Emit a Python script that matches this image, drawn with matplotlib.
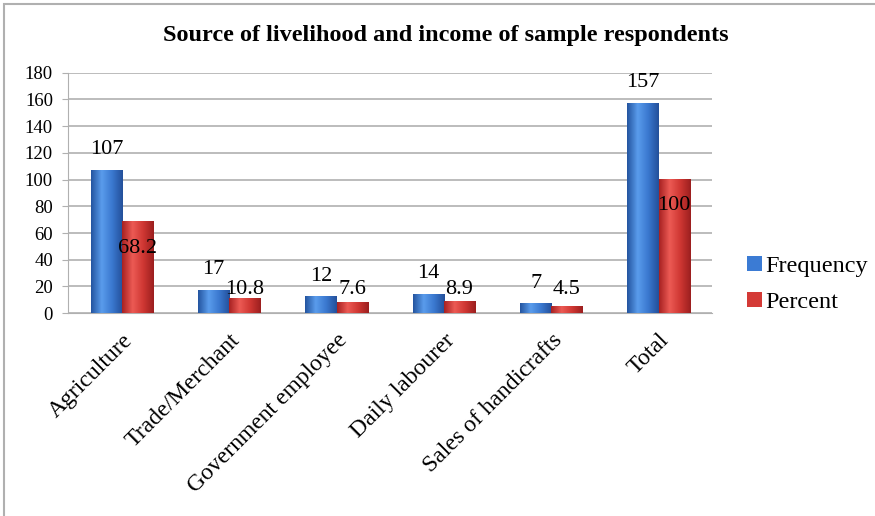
import numpy as np
import matplotlib
matplotlib.use('Agg')
import matplotlib.pyplot as plt
from matplotlib.colors import LinearSegmentedColormap
from matplotlib.patches import Rectangle

categories = ['Agriculture', 'Trade/Merchant', 'Government employee',
              'Daily labourer', 'Sales of handicrafts', 'Total']
frequency = [107, 17, 12, 14, 7, 157]
percent = [68.2, 10.8, 7.6, 8.9, 4.5, 100]
freq_labels = ['107', '17', '12', '14', '7', '157']
pct_labels = ['68.2', '10.8', '7.6', '8.9', '4.5', '100']

plt.rcParams['font.family'] = ['Liberation Serif', 'DejaVu Serif']

fig = plt.figure(figsize=(8.75, 5.16), dpi=100)
ax = fig.add_axes([0.078, 0.393, 0.736, 0.466])

# frame round the whole chart (right and bottom edges fall outside the picture)
fig.patches.append(Rectangle((0.005, -0.02), 1.1, 1.012, transform=fig.transFigure,
                             fill=False, edgecolor='#b0b0b0', linewidth=1.5))

x = np.arange(len(categories))
w = 0.29
blue_bars = ax.bar(x - w / 2, frequency, w, color='#3b7bd4', zorder=3, label='Frequency')
red_bars = ax.bar(x + w / 2, percent, w, color='#d43a36', zorder=3, label='Percent')

# cylinder-like shading on the bars
blue_cmap = LinearSegmentedColormap.from_list('b', ['#2455a0', '#5a9cec', '#3a78cf', '#24509a'])
red_cmap = LinearSegmentedColormap.from_list('r', ['#a82222', '#ec5a54', '#cf3733', '#9c1f1f'])
grad = np.linspace(0, 1, 64).reshape(1, -1)
for bars, cmap in [(blue_bars, blue_cmap), (red_bars, red_cmap)]:
    for b in bars:
        x0, y0 = b.get_x(), b.get_y()
        ax.imshow(grad, cmap=cmap, aspect='auto', zorder=4,
                  extent=(x0, x0 + b.get_width(), y0, y0 + b.get_height()))

for xi, v, lab in zip(x, frequency, freq_labels):
    ax.annotate(lab, (xi - w / 2, v), xytext=(0, 8), textcoords='offset points',
                ha='center', va='bottom', fontsize=16, zorder=5)
for xi, v, lab in zip(x, percent, pct_labels):
    ax.text(xi + w / 2, max(v - 19.5, 17.5), lab, ha='center', va='center',
            fontsize=16, zorder=5)

ax.set_xlim(-0.5, len(categories) - 0.5)
ax.set_ylim(0, 180)
ax.set_yticks(range(0, 181, 20))
ax.yaxis.grid(True, color='#b0b0b0', linewidth=1.2, zorder=0)
ax.set_axisbelow(True)
for s in ['top', 'right']:
    ax.spines[s].set_visible(False)
ax.spines['left'].set_color('#b0b0b0')
ax.spines['bottom'].set_color('#b0b0b0')
ax.tick_params(axis='y', length=4, color='#b0b0b0', labelsize=13.5, pad=7)
ax.tick_params(axis='x', length=0, labelsize=17, pad=12)
ax.set_xticks(x)
ax.set_xticklabels(categories, rotation=45, ha='right', rotation_mode='anchor')

fig.text(0.509, 0.932, 'Source of livelihood and income of sample respondents',
         ha='center', va='center', fontsize=17.5, fontweight='bold')

ax.legend(loc='center left', bbox_to_anchor=(1.02, 0.12), frameon=False,
          fontsize=17.5, handlelength=0.6, handleheight=0.6, handletextpad=0.15,
          labelspacing=0.6)

fig.savefig('out.png', dpi=100)
